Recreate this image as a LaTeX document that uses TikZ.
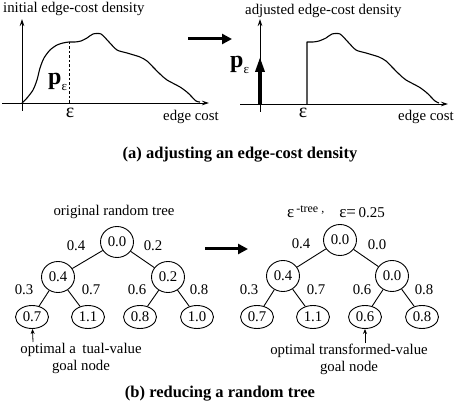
\documentclass[tikz,border=0pt]{standalone}
\usepackage{fontspec}
\setmainfont{Liberation Serif}
\usetikzlibrary{arrows.meta,shapes.geometric}
\begin{document}
\begin{tikzpicture}[x=1pt,y=-1pt,
  lbl/.style={font=\fontsize{14.8}{17}\selectfont, inner sep=0pt},
  captext/.style={font=\fontsize{16.5}{18}\selectfont\bfseries, inner sep=0pt},
  axis/.style={line width=0.8pt,-{Stealth[length=7pt,width=4.5pt]}},
  curve/.style={line width=1.1pt, line join=round},
  bigarrow/.style={line width=3pt,-{Triangle[length=10pt,width=10pt]}},
  tn/.style={draw, ellipse, line width=0.9pt, minimum width=33pt, minimum height=31pt, inner sep=0pt, font=\fontsize{14.8}{17}\selectfont},
  lf/.style={tn, minimum height=23pt},
  edge/.style={line width=0.9pt},
  goalarrow/.style={line width=0.8pt,-{Stealth[length=5pt,width=4pt]}},
  epsbig/.style={font=\fontsize{20}{20}\selectfont, inner sep=0pt}
]
\useasboundingbox (0,0) rectangle (455,403);

% ---------- left density plot ----------
\coordinate (lx0) at (2,103);
\coordinate (lx1) at (209,103);
\coordinate (ly0) at (22,111);
\coordinate (ly1) at (22,19);
\draw[axis] (lx0) -- (lx1);
\draw[axis] (ly0) -- (ly1);
\draw[curve] plot[smooth,tension=0.45] coordinates {
 (22,103) (27,98) (33,90) (37,80) (40,68) (44,58) (50,50) (57,45) (63,43)
 (69,42) (75,42) (81,41) (87,38) (93,34) (101,34) (109,42) (117,50) (127,53)
 (140,57) (147,61) (153,67) (160,74) (167,80) (180,87) (188,93) (196,101) (200,102)};
\coordinate (dtop) at (69,42);
\coordinate (dbot) at (69,103);
\draw[line width=1pt, dash pattern=on 2.5pt off 2pt] (dtop) -- (dbot);
\node[lbl, anchor=west] (t1) at (3,9) {initial edge-cost density};
\node[lbl, anchor=west] (ec1) at (163,117) {edge cost};
\node[epsbig] (e1) at (70,113) {ε};
\node[inner sep=0pt, anchor=base west] (p1) at (48,85)
  {{\fontsize{24}{24}\selectfont\bfseries p}\raisebox{-6pt}{\fontsize{13}{13}\selectfont ε}};

% ---------- big arrow ----------
\coordinate (ba0) at (188,39);
\coordinate (ba1) at (232,39);
\draw[bigarrow] (ba0) -- (ba1);

% ---------- right density plot ----------
\coordinate (rx0) at (240,104);
\coordinate (rx1) at (448,104);
\coordinate (ry0) at (260,112);
\coordinate (ry1) at (260,19);
\draw[axis] (rx0) -- (rx1);
\draw[axis] (ry0) -- (ry1);
\coordinate (pa0) at (260,104);
\coordinate (pa1) at (260,57);
\draw[line width=3.3pt,-{Triangle[length=15pt,width=9pt]}] (pa0) -- (pa1);
\draw[curve] (307,104) -- plot[smooth,tension=0.45] coordinates {
 (307,42) (313,42) (319,41) (326,38) (332,34) (340,34) (348,42) (356,50) (366,53)
 (379,57) (386,61) (392,67) (399,74) (406,80) (419,87) (427,93) (435,101) (439,103)};
\node[lbl, anchor=west] (t2) at (245,11) {adjusted edge-cost density};
\node[lbl, anchor=west] (ec2) at (398,117) {edge cost};
\node[epsbig] (e2) at (303,113) {ε};
\node[inner sep=0pt, anchor=base west] (p2) at (230,68)
  {{\fontsize{24}{24}\selectfont\bfseries p}\raisebox{-6pt}{\fontsize{13}{13}\selectfont ε}};

\node[captext] (capa) at (240,155) {(a) adjusting an edge-cost density};

% ---------- left tree ----------
\node[lbl] (tt1) at (114,212) {original random tree};
\node[tn] (L0) at (117,242) {0.0};
\node[tn] (L1) at (58,277) {0.4};
\node[tn] (L2) at (168,277) {0.2};
\node[lf] (L11) at (32,317) {0.7};
\node[lf] (L12) at (88,317) {1.1};
\node[lf] (L21) at (140,317) {0.8};
\node[lf] (L22) at (197,317) {1.0};
\draw[edge] (L0) -- (L1);
\draw[edge] (L0) -- (L2);
\draw[edge] (L1) -- (L11);
\draw[edge] (L1) -- (L12);
\draw[edge] (L2) -- (L21);
\draw[edge] (L2) -- (L22);
\node[lbl] (le1) at (76,246) {0.4};
\node[lbl] (le2) at (153,246) {0.2};
\node[lbl] (le11) at (24,290) {0.3};
\node[lbl] (le12) at (91,290) {0.7};
\node[lbl] (le21) at (137,290) {0.6};
\node[lbl] (le22) at (199,290) {0.8};
\node[lbl, align=center] (g1) at (81,358) {optimal a\phantom{c}tual-value\\goal node};
\coordinate (ga1) at (33,342);
\draw[goalarrow] (ga1) -- (L11);

% ---------- tree arrow ----------
\coordinate (ta0) at (205,249);
\coordinate (ta1) at (248,249);
\draw[bigarrow] (ta0) -- (ta1);

% ---------- right tree ----------
\node[inner sep=0pt, anchor=base west] (tt2) at (287,218)
  {{\fontsize{17}{17}\selectfont ε}\raisebox{5pt}{\fontsize{12}{12}\selectfont\,-tree ,}\hspace{15pt}{\fontsize{17}{17}\selectfont ε=}{\fontsize{15}{15}\selectfont\,0.25}};
\node[tn] (R0) at (340,240) {0.0};
\node[tn] (R1) at (283,276) {0.4};
\node[tn] (R2) at (392,276) {0.0};
\node[lf] (R11) at (257,317) {0.7};
\node[lf] (R12) at (313,317) {1.1};
\node[lf] (R21) at (365,317) {0.6};
\node[lf] (R22) at (422,317) {0.8};
\draw[edge] (R0) -- (R1);
\draw[edge] (R0) -- (R2);
\draw[edge] (R1) -- (R11);
\draw[edge] (R1) -- (R12);
\draw[edge] (R2) -- (R21);
\draw[edge] (R2) -- (R22);
\node[lbl] (re1) at (301,244) {0.4};
\node[lbl] (re2) at (377,245) {0.0};
\node[lbl] (re11) at (249,290) {0.3};
\node[lbl] (re12) at (316,290) {0.7};
\node[lbl] (re21) at (362,290) {0.6};
\node[lbl] (re22) at (424,290) {0.8};
\node[lbl, align=center] (g2) at (349,359) {optimal transformed-value\\goal node};
\coordinate (ga2) at (365,343);
\draw[goalarrow] (ga2) -- (R21);

\node[captext] (capb) at (220,394) {(b) reducing a random tree};
\end{tikzpicture}
\end{document}
